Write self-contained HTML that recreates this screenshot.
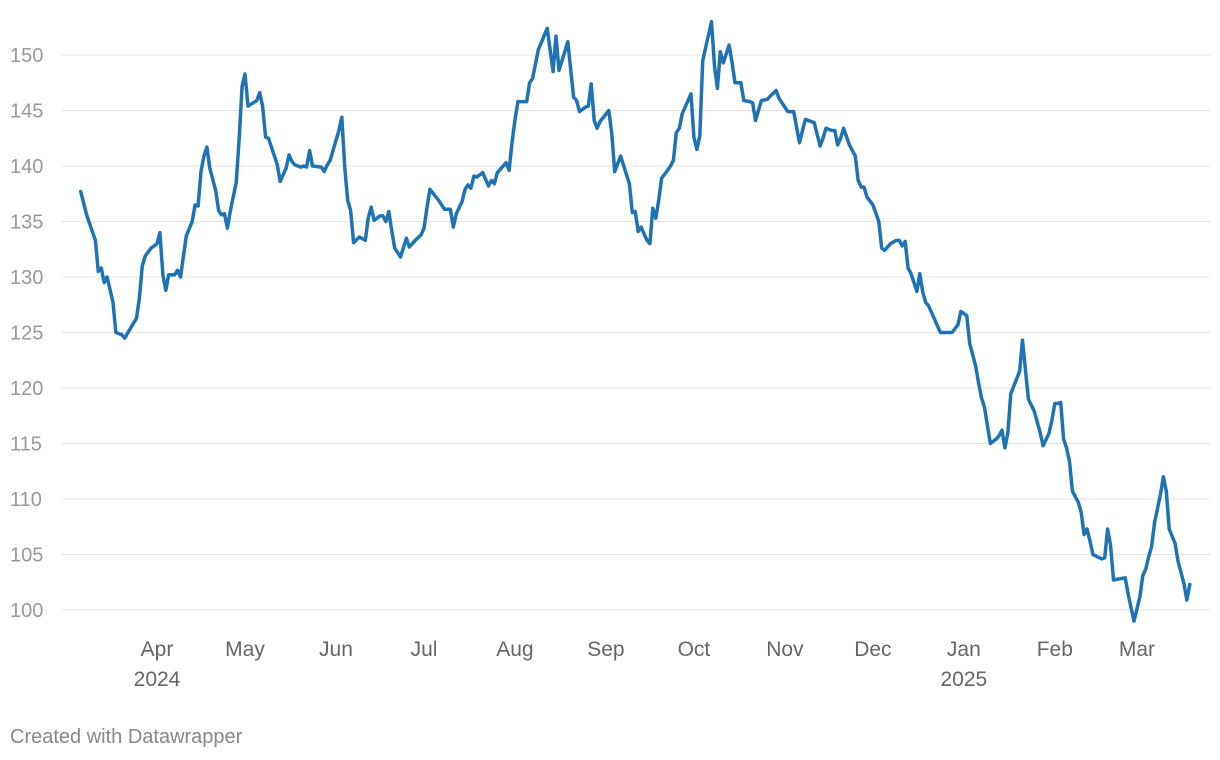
<!DOCTYPE html>
<html><head><meta charset="utf-8"><style>
html,body{margin:0;padding:0;background:#fff;width:1220px;height:760px;overflow:hidden}
svg{display:block;font-family:"Liberation Sans",Arial,sans-serif}
</style></head><body>
<svg id="chart" width="1220" height="760">
<g id="grid"></g>
<g id="yaxis"></g>
<g id="xaxis"></g>
<g id="series"></g>
<text x="10" y="743" font-size="20" fill="#888">Created with Datawrapper</text>
</svg>
<script>
// days since 2024-04-01
const days = [-26,-24,-21,-20,-19,-18,-17,-15,-14,-12,-11,-7,-6,-5,-4,-2,0,1,2,3,4,6,7,8,10,12,13,14,15,16,17,18,20,21,22,23,24,25,27,28,29,30,31,34,35,36,37,38,40,41,42,44,45,46,47,49,50,51,52,53,56,57,58,59,62,63,64,65,66,67,69,71,72,73,74,76,77,78,79,80,81,83,85,86,88,90,91,92,93,96,98,100,101,102,104,105,106,107,108,109,110,111,113,114,115,116,119,120,121,122,123,126,127,128,130,133,135,136,137,140,142,143,144,146,147,148,149,150,151,154,155,156,158,161,162,163,164,165,167,168,169,170,171,172,174,175,176,177,178,179,182,183,184,185,186,189,190,191,192,193,195,196,197,199,200,202,203,204,206,208,209,211,212,214,215,217,219,220,221,222,224,226,227,228,230,231,232,233,234,236,238,239,240,241,242,244,246,247,248,250,252,253,254,255,256,257,259,260,261,262,263,265,267,270,271,273,274,276,277,279,280,281,282,284,286,287,288,289,290,291,294,295,297,299,301,302,304,305,306,307,308,309,310,311,312,314,315,316,317,318,319,322,323,324,325,326,330,331,333,335,336,337,338,339,340,342,343,344,345,347,348,350,351,352];
const values = [137.7,135.6,133.3,130.5,130.8,129.5,130.0,127.7,125.0,124.8,124.5,126.3,128.1,131.0,131.9,132.6,133.0,134.0,130.2,128.8,130.2,130.2,130.6,130.0,133.7,135.0,136.5,136.4,139.5,140.9,141.7,139.8,137.8,136.0,135.6,135.7,134.4,136.0,138.5,142.5,147.2,148.3,145.4,145.9,146.6,145.4,142.6,142.5,140.9,140.1,138.6,139.8,141.0,140.4,140.1,139.9,140.0,139.9,141.4,140.0,139.9,139.5,140.1,140.5,143.2,144.4,139.8,136.9,136.0,133.1,133.6,133.3,135.3,136.3,135.1,135.5,135.5,135.0,135.9,134.2,132.6,131.8,133.5,132.7,133.3,133.8,134.4,136.2,137.9,136.9,136.1,136.1,134.5,135.7,136.8,137.9,138.3,138.0,139.1,139.0,139.2,139.4,138.2,138.7,138.4,139.4,140.3,139.6,142.1,144.1,145.8,145.8,147.5,147.9,150.5,152.4,148.5,151.7,148.6,151.2,146.2,145.9,144.9,145.3,145.4,147.4,144.1,143.4,144.0,145.0,142.9,139.5,140.9,138.4,135.8,135.9,134.1,134.5,133.3,133.0,136.2,135.3,136.9,138.9,139.6,140.0,140.5,143.0,143.4,144.7,146.5,142.6,141.5,142.7,149.5,153.0,149.0,147.0,150.3,149.3,150.9,149.3,147.5,147.5,145.9,145.8,145.7,144.1,145.9,146.0,146.3,146.8,146.1,145.3,144.9,144.9,142.1,143.2,144.2,144.1,143.9,141.8,142.5,143.4,143.2,143.2,141.9,142.5,143.4,141.9,140.9,138.7,138.1,138.1,137.2,136.5,135.0,132.6,132.4,133.0,133.3,133.3,132.8,133.2,130.8,130.3,128.7,130.3,128.6,127.7,127.4,126.2,125.0,125.0,125.0,125.7,126.9,126.5,124.0,122.0,120.5,119.1,118.3,115.0,115.4,115.7,116.2,114.6,116.0,119.5,121.5,124.3,119.0,117.9,116.0,114.8,115.9,117.1,118.6,118.6,118.7,115.4,114.6,113.4,110.7,109.7,108.8,106.8,107.3,106.2,105.0,104.6,104.7,107.3,105.8,102.7,102.9,101.4,99.0,101.2,103.1,103.7,104.8,105.7,107.9,110.4,112.0,110.7,107.3,106.0,104.4,102.4,100.9,102.3];
const yTicks = [100,105,110,115,120,125,130,135,140,145,150];
const monthLabels = ["Apr","May","Jun","Jul","Aug","Sep","Oct","Nov","Dec","Jan","Feb","Mar"];
const monthDays = [0,30,61,91,122,153,183,214,244,275,306,334];
const yearLabels = ["2024","","","","","","","","","2025","",""];

const NS="http://www.w3.org/2000/svg";
const xs = d => 157 + d*2.934;
const ys = v => 610 - (v-100)*11.1;
function mk(tag, attrs, parent){const e=document.createElementNS(NS,tag);for(const k in attrs)e.setAttribute(k,attrs[k]);parent.appendChild(e);return e;}
const grid=document.getElementById('grid'), yaxis=document.getElementById('yaxis'), xaxis=document.getElementById('xaxis'), series=document.getElementById('series');
yTicks.forEach(t=>{
  const l=mk('line',{x1:62,x2:1210,y1:ys(t),y2:ys(t),stroke:'#e3e3e3','stroke-width':1},grid);
  
  
  const tx=mk('text',{x:10,y:ys(t)+7,'font-size':20,fill:'#999'},yaxis);
  tx.textContent=t;
  
  
});
monthLabels.forEach((m,i)=>{
  const tx=mk('text',{x:xs(monthDays[i]),y:656,'font-size':21,fill:'#666','text-anchor':'middle'},xaxis);
  tx.textContent=m;
  
  
  if(yearLabels[i]){
    const yt=mk('text',{x:xs(monthDays[i]),y:686,'font-size':21,fill:'#666','text-anchor':'middle'},xaxis);
    yt.textContent=yearLabels[i];
    
    
  }
});
const dpath = days.map((d,i)=>(i?'L':'M')+xs(d).toFixed(1)+','+ys(values[i]).toFixed(1)).join('');
const p=mk('path',{d:dpath,fill:'none',stroke:'#1f73b2','stroke-width':3.5,'stroke-linejoin':'round','stroke-linecap':'round'},series);


</script>
</body></html>
